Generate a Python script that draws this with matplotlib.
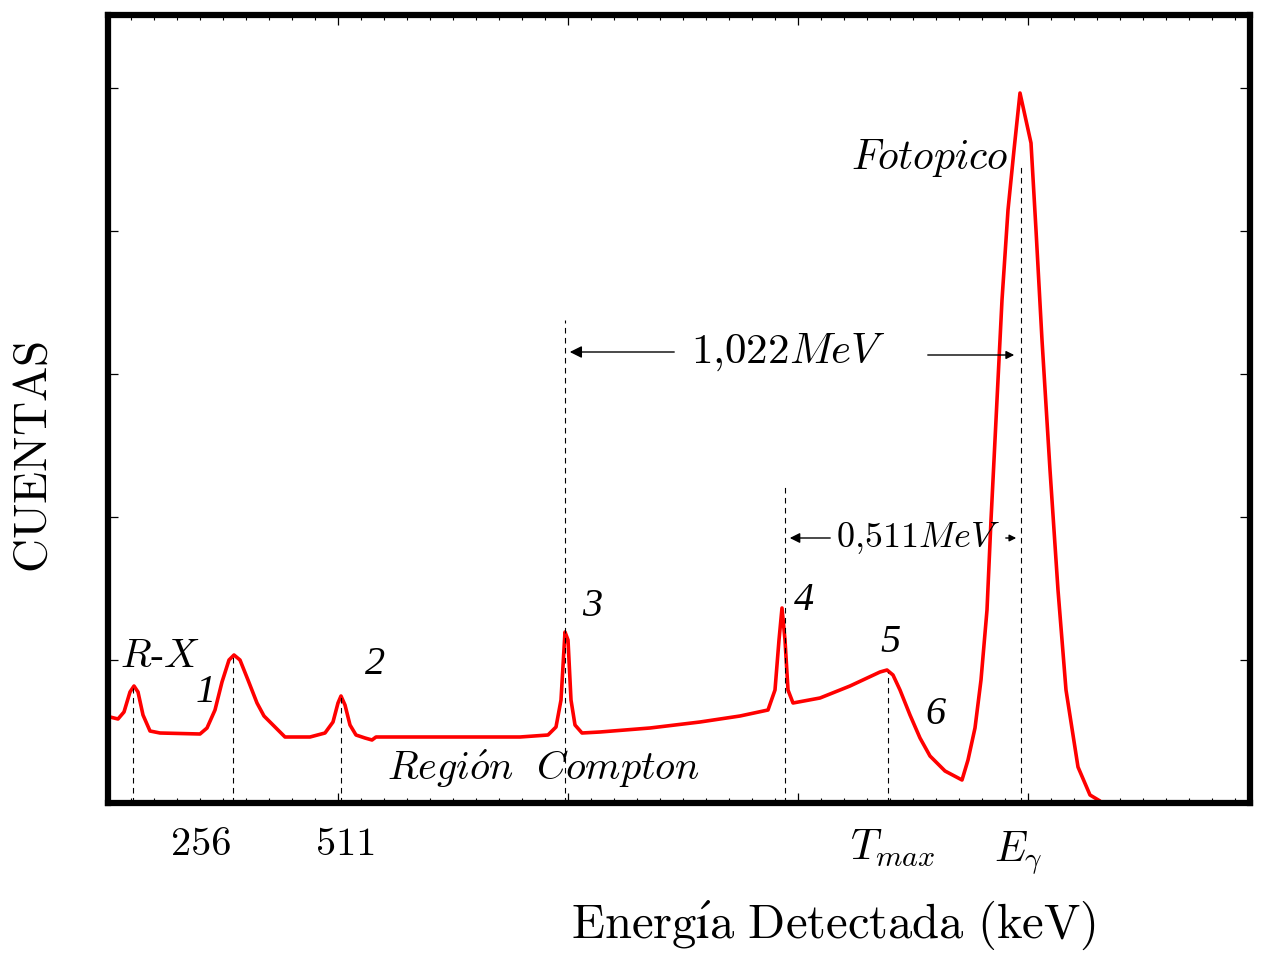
import matplotlib
matplotlib.use("Agg")
import matplotlib.pyplot as plt
from matplotlib.ticker import MultipleLocator

plt.rcParams['mathtext.fontset'] = 'cm'
plt.rcParams['font.family'] = ['cmr10', 'DejaVu Serif']
plt.rcParams['axes.unicode_minus'] = False

# Spectrum (channel, counts) - schematic gamma spectrum
channel = [2, 10, 16, 22, 26, 30, 35, 42, 52, 92, 99, 107, 114, 121, 126, 132, 140, 149,
           156, 167, 177, 202, 217, 225, 230, 233, 237, 242, 248, 257, 264, 268, 292, 412,
           440, 448, 453, 457, 460, 463, 467, 474, 492, 542, 592, 632, 660, 667, 671, 674,
           677, 680, 685, 712, 742, 772, 779, 785, 792, 802, 812, 822, 837, 854, 860, 867,
           873, 879, 883, 888, 894, 900, 906, 912, 923, 928, 934, 942, 950, 958, 970, 982, 992]
counts = [86, 84, 91, 111, 117, 111, 88, 72, 70, 69, 75, 93, 121, 143, 148, 143, 123, 100,
          87, 76, 66, 66, 70, 81, 100, 107, 98, 78, 68, 65, 63, 66, 66, 66,
          68, 76, 103, 171, 163, 103, 78, 70, 71, 75, 81, 87, 93, 113, 163, 195,
          163, 113, 100, 105, 117, 131, 133, 128, 113, 88, 65, 47, 32, 23, 43, 75,
          123, 193, 283, 383, 503, 593, 653, 710, 660, 573, 463, 333, 213, 113, 36, 8, 2]

# Dashed marker lines (channel, top)
mark_x = [25, 125, 233, 457, 677, 780, 913]
mark_top = [115, 148, 106, 483, 316, 131, 640]

peak_labels = ["1", "2", "3", "4", "5", "6"]
peak_label_x = [98, 267, 484, 696, 782, 827]
peak_label_y = [111, 138, 196, 203, 161, 89]

axis_labels = ["256", "511", r"$T_{max}$", r"$E_{\gamma}$"]
axis_label_x = [93, 238, 785, 910]
axis_label_y = [-42, -42, -45, -50]

fig = plt.figure(figsize=(12.63, 9.56), dpi=100)
ax = fig.add_axes([108/1263, 1-803/956, 1142/1263, 788/956])

ax.plot(channel, counts, color='red', lw=2.6, solid_joinstyle='round', solid_capstyle='round')

for x, t in zip(mark_x, mark_top):
    ax.plot([x, x], [0, t], ls=(0, (5, 4)), color='black', lw=0.8)

ax.set_xlim(0, 1142)
ax.set_ylim(0, 788)
ax.xaxis.set_major_locator(MultipleLocator(230))
ax.xaxis.set_minor_locator(MultipleLocator(23))
ax.yaxis.set_major_locator(MultipleLocator(143))
ax.tick_params(which='both', direction='in', top=True, right=True,
               labelbottom=False, labelleft=False)
ax.tick_params(which='major', length=7, width=0.9)
ax.tick_params(which='minor', length=3.5, width=0.8)
ax.tick_params(axis='y', which='minor', left=False, right=False)
for s in ax.spines.values():
    s.set_linewidth(4.5)

ax.text(52, 146, "$R$-$X$", fontsize=29, ha='center', va='center')
for txt, x, y in zip(peak_labels, peak_label_x, peak_label_y):
    ax.text(x, y, txt, fontsize=29, ha='center', va='center',
            family='Liberation Serif', style='italic')

ax.text(435, 34, r"$Regi\acute{o}n\ \ Compton$", fontsize=29, ha='center', va='center')
ax.text(822, 645, r"$Fotopico$", fontsize=30, ha='center', va='center')

# Arrows and energy separations
ax.text(680, 451, r"$1{,}022MeV$", fontsize=31, ha='center', va='center')
ax.annotate("", xy=(459, 451), xytext=(569, 451),
            arrowprops=dict(arrowstyle='-|>', color='black', lw=1, mutation_scale=18))
ax.annotate("", xy=(909, 448), xytext=(817, 448),
            arrowprops=dict(arrowstyle='-|>', color='black', lw=1, mutation_scale=12))
ax.text(810, 265, r"$0{,}511MeV$", fontsize=26, ha='center', va='center')
ax.annotate("", xy=(679, 265), xytext=(725, 265),
            arrowprops=dict(arrowstyle='-|>', color='black', lw=1, mutation_scale=15))
ax.annotate("", xy=(911, 265), xytext=(895, 265),
            arrowprops=dict(arrowstyle='-|>', color='black', lw=1, mutation_scale=10))

sizes = [29, 29, 31, 30]
for txt, x, y, fs in zip(axis_labels, axis_label_x, axis_label_y, sizes):
    ax.text(x, y, txt, fontsize=fs, ha='center', va='center', clip_on=False)

fig.text(834/1263, 1-925/956, "$\\mathrm{Energ\\acute{\u0131}a\\ Detectada\\ (keV)}$",
         fontsize=35, ha='center', va='center')
fig.text(35/1263, 1-457/956, r"$\mathrm{CUENTAS}$", fontsize=34, ha='center', va='center',
         rotation=90)

fig.savefig("out.png", dpi=100)
